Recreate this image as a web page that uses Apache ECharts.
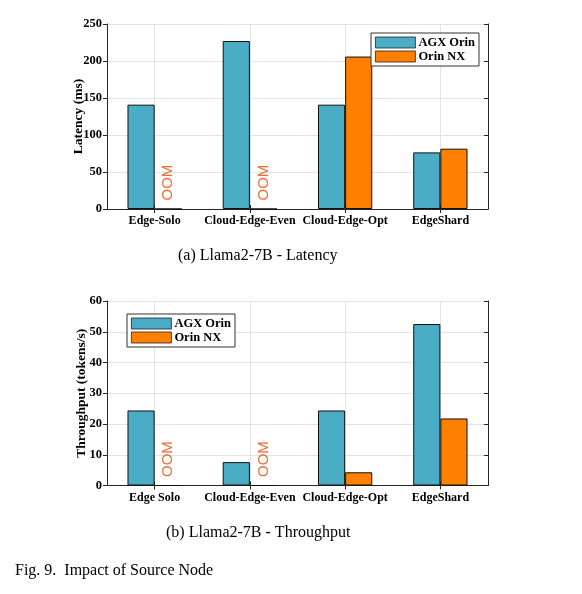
<!DOCTYPE html>
<html><head><meta charset="utf-8">
<script src="https://cdn.jsdelivr.net/npm/echarts@6/dist/echarts.min.js"></script>
<style>html,body{margin:0;padding:0;background:#fff;}#c{width:582px;height:594px;}</style>
</head><body><div id="c"></div>
<script>
const catsLatency = ['Edge-Solo', 'Cloud-Edge-Even', 'Cloud-Edge-Opt', 'EdgeShard'];
const catsThroughput = ['Edge Solo', 'Cloud-Edge-Even', 'Cloud-Edge-Opt', 'EdgeShard'];
const seriesNames = ['AGX Orin', 'Orin NX'];
const latencyAGX = [141, 227, 141, 76.5];
const latencyNX = [null, null, 206, 81.5];
const throughputAGX = [24.4, 7.6, 24.4, 52.5];
const throughputNX = [null, null, 4.3, 21.8];
const latencyTicks = [0, 50, 100, 150, 200, 250];
const throughputTicks = [0, 10, 20, 30, 40, 50, 60];
const captionA = '(a) Llama2-7B - Latency';
const captionB = '(b) Llama2-7B - Throughput';
const figCaption = 'Fig. 9.  Impact of Source Node';

const TEAL = '#4BACC6', ORANGE = '#FF8000', OOMC = '#F26A35', AX = '#262626';
const SERIF = '"Liberation Serif", "Times New Roman", serif';

function nxData(arr) {
  return arr.map(v => v === null ? {
    value: 0,
    label: {show: true, formatter: 'OOM', position: 'top', rotate: 90, align: 'left',
      verticalAlign: 'middle', distance: 8, color: OOMC, fontSize: 15,
      fontFamily: '"Liberation Sans", Arial, sans-serif'}
  } : v);
}
const grids = [
  {left: 107, right: 94, top: 24, height: 185},
  {left: 107, right: 94, top: 301, height: 184.5}
];
function xAxes(gi, cats) {
  const helper = [''];
  cats.forEach(c => { helper.push(c); helper.push(''); });
  return [
    {type: 'category', gridIndex: gi, data: cats, position: 'bottom',
      axisLine: {lineStyle: {color: AX, width: 1}},
      axisTick: {show: true, alignWithLabel: true, inside: true, length: 4, lineStyle: {color: AX}},
      axisLabel: {color: '#000', fontFamily: SERIF, fontWeight: 'bold', fontSize: 12, margin: 6, interval: 0},
      splitLine: {show: false}},
    {type: 'category', gridIndex: gi, data: helper, position: 'top', boundaryGap: false,
      axisLine: {lineStyle: {color: AX, width: 1}},
      axisTick: {show: true, inside: true, length: 4, interval: (i) => i % 2 === 1, lineStyle: {color: AX}},
      axisLabel: {show: false},
      splitLine: {show: true, interval: (i) => i % 2 === 1, lineStyle: {color: '#e3e3e3', width: 1}}}
  ];
}
function yAxes(gi, ticks, name, gap) {
  const mn = ticks[0], mx = ticks[ticks.length - 1], iv = ticks[1] - ticks[0];
  return [
    {type: 'value', gridIndex: gi, min: mn, max: mx, interval: iv, position: 'left',
      name: name, nameLocation: 'middle', nameGap: gap, nameRotate: 90, nameMoveOverlap: false,
      nameTextStyle: {color: '#000', fontFamily: SERIF, fontWeight: 'bold', fontSize: 13.5},
      axisLine: {show: true, lineStyle: {color: AX, width: 1}},
      axisTick: {show: true, inside: false, length: 4, lineStyle: {color: AX}},
      axisLabel: {color: '#000', fontFamily: SERIF, fontWeight: 'bold', fontSize: 12.5, margin: 5},
      splitLine: {show: true, lineStyle: {color: '#e3e3e3', width: 1}}},
    {type: 'value', gridIndex: gi, min: mn, max: mx, interval: iv, position: 'right',
      axisLine: {show: true, lineStyle: {color: AX, width: 1}},
      axisTick: {show: true, inside: true, length: 4, lineStyle: {color: AX}},
      axisLabel: {show: false}, splitLine: {show: false}}
  ];
}
const barCommon = {type: 'bar', barGap: '0%', barCategoryGap: '43%',
  itemStyle: {borderColor: '#111', borderWidth: 1}};

const legendCommon = {orient: 'vertical', itemWidth: 40, itemHeight: 11, itemGap: 1,
  padding: [3, 4, 3, 4], backgroundColor: '#fff', borderColor: '#333', borderWidth: 1,
  itemStyle: {borderWidth: 0.8, borderColor: '#222'},
  textStyle: {color: '#000', fontFamily: SERIF, fontWeight: 'bold', fontSize: 12.5, lineHeight: 13, padding: [0, 0, 0, -2]},
  icon: 'rect', data: seriesNames};

const option = {
  animation: false,
  backgroundColor: '#fff',
  grid: grids,
  xAxis: [...xAxes(0, catsLatency), ...xAxes(1, catsThroughput)],
  yAxis: [...yAxes(0, latencyTicks, 'Latency (ms)', 21), ...yAxes(1, throughputTicks, 'Throughput (tokens/s)', 18)],
  legend: [
    Object.assign({}, legendCommon, {left: 371, top: 33}),
    Object.assign({}, legendCommon, {left: 127, top: 314})
  ],
  title: [
    {text: captionA, left: 178, top: 248, padding: 0, textStyle: {fontFamily: SERIF, fontWeight: 'normal', fontSize: 16, color: '#000'}},
    {text: captionB, left: 166, top: 525, padding: 0, textStyle: {fontFamily: SERIF, fontWeight: 'normal', fontSize: 16, color: '#000'}},
    {text: figCaption, left: 15, top: 563, padding: 0, textStyle: {fontFamily: SERIF, fontWeight: 'normal', fontSize: 16, color: '#000'}}
  ],
  series: [
    Object.assign({}, barCommon, {name: seriesNames[0], xAxisIndex: 0, yAxisIndex: 0, data: latencyAGX, itemStyle: Object.assign({color: TEAL}, barCommon.itemStyle)}),
    Object.assign({}, barCommon, {name: seriesNames[1], xAxisIndex: 0, yAxisIndex: 0, data: nxData(latencyNX), itemStyle: Object.assign({color: ORANGE}, barCommon.itemStyle)}),
    Object.assign({}, barCommon, {name: seriesNames[0], xAxisIndex: 2, yAxisIndex: 2, data: throughputAGX, itemStyle: Object.assign({color: TEAL}, barCommon.itemStyle)}),
    Object.assign({}, barCommon, {name: seriesNames[1], xAxisIndex: 2, yAxisIndex: 2, data: nxData(throughputNX), itemStyle: Object.assign({color: ORANGE}, barCommon.itemStyle)})
  ]
};
const chart = echarts.init(document.getElementById('c'), null, {renderer: 'canvas'});
chart.setOption(option);
</script></body></html>
